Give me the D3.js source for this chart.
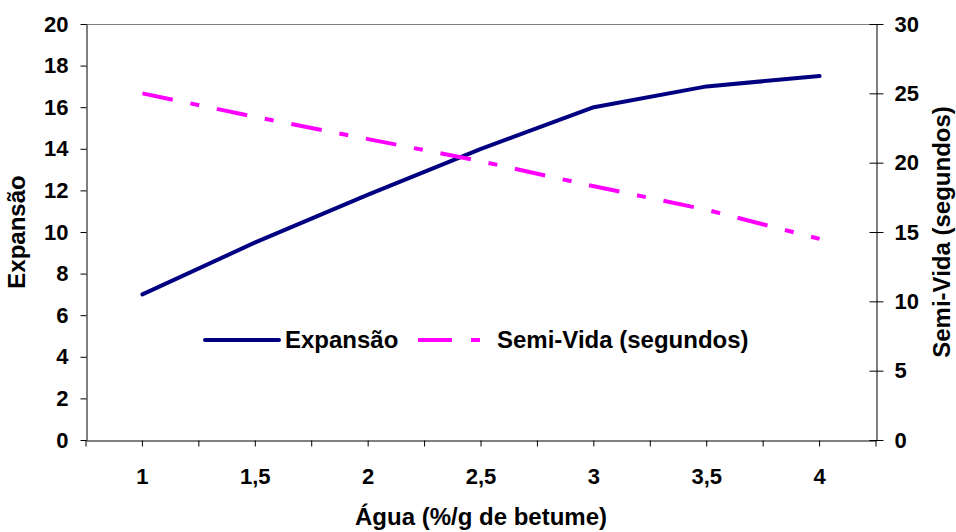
<!DOCTYPE html>
<html>
<head>
<meta charset="utf-8">
<script src="https://cdn.jsdelivr.net/npm/d3@7"></script>
<style>
  body { margin: 0; background: #fff; }
  svg text { font-family: "Liberation Sans", Arial, sans-serif; font-weight: bold; fill: #000; }
</style>
</head>
<body>
<svg id="chart"></svg>
<script>
// Data
const agua = ["1", "1,5", "2", "2,5", "3", "3,5", "4"];
const expansao = [7, 9.5, 11.8, 14, 16, 17, 17.5];
const semiVida = [25, 23.3, 21.7, 20.1, 18.3, 16.6, 14.5];
const leftTicks = [0, 2, 4, 6, 8, 10, 12, 14, 16, 18, 20];
const rightTicks = [0, 5, 10, 15, 20, 25, 30];

const width = 956, height = 532;
const margin = { top: 24, bottom: 92, left: 86, right: 80 };
const tickFont = 22, titleFont = 24;

const svg = d3.select("#chart")
  .attr("width", width)
  .attr("height", height);

// Scales
const x = d3.scaleBand()
  .domain(agua)
  .range([margin.left, width - margin.right])
  .padding(0);

const yLeft = d3.scaleLinear()
  .domain([0, 20])
  .range([height - margin.bottom, margin.top]);

const yRight = d3.scaleLinear()
  .domain([0, 30])
  .range([height - margin.bottom, margin.top]);

// Top border of the plot area
svg.append("line")
  .attr("x1", margin.left)
  .attr("x2", width - margin.right)
  .attr("y1", margin.top + 0.5)
  .attr("y2", margin.top + 0.5)
  .attr("stroke", "#808080");

// Left axis
const gLeft = svg.append("g")
  .attr("transform", `translate(${margin.left + 0.5},0)`)
  .call(d3.axisLeft(yLeft).tickValues(leftTicks).tickSize(6).tickSizeOuter(0).tickPadding(12));

// Right axis, ticks cross the line
const gRight = svg.append("g")
  .attr("transform", `translate(${width - margin.right + 0.5},0)`)
  .call(d3.axisRight(yRight).tickValues(rightTicks).tickSize(7).tickSizeOuter(0).tickPadding(11));
gRight.selectAll(".tick line").attr("x1", -7);

// Bottom axis: labels at category centres, ticks every half category
const gBottom = svg.append("g")
  .attr("transform", `translate(0,${height - margin.bottom + 0.5})`)
  .call(d3.axisBottom(x).tickSize(6).tickSizeOuter(0).tickPadding(22));

const bw = x.bandwidth();
gBottom.selectAll(".edge")
  .data(agua.concat(["end"]))
  .enter()
  .append("line")
  .attr("class", "edge")
  .attr("x1", (d, i) => margin.left + i * bw)
  .attr("x2", (d, i) => margin.left + i * bw)
  .attr("y1", 0)
  .attr("y2", 6)
  .attr("stroke", "#000");

[gLeft, gRight, gBottom].forEach(g => {
  g.selectAll("text").style("font-size", tickFont + "px");
  g.select(".domain").attr("stroke", "#000");
});

// Axis titles
svg.append("text")
  .text("Água (%/g de betume)")
  .attr("x", (margin.left + width - margin.right) / 2)
  .attr("y", height - 7)
  .attr("text-anchor", "middle")
  .style("font-size", titleFont + "px");

svg.append("text")
  .text("Expansão")
  .attr("transform", `translate(25,${(margin.top + height - margin.bottom) / 2}) rotate(-90)`)
  .attr("text-anchor", "middle")
  .style("font-size", titleFont + "px");

svg.append("text")
  .text("Semi-Vida (segundos)")
  .attr("transform", `translate(950,${(margin.top + height - margin.bottom) / 2}) rotate(-90)`)
  .attr("text-anchor", "middle")
  .style("font-size", titleFont + "px");

// Lines
const cx = d => x(d) + bw / 2;

const lineLeft = d3.line()
  .x((d, i) => cx(agua[i]))
  .y(d => yLeft(d));

const lineRight = d3.line()
  .x((d, i) => cx(agua[i]))
  .y(d => yRight(d));

svg.append("path")
  .datum(expansao)
  .attr("d", lineLeft)
  .attr("fill", "none")
  .attr("stroke", "#000080")
  .attr("stroke-width", 4)
  .attr("stroke-linejoin", "round")
  .attr("stroke-linecap", "round");

svg.append("path")
  .datum(semiVida)
  .attr("d", lineRight)
  .attr("fill", "none")
  .attr("stroke", "#FF00FF")
  .attr("stroke-width", 4)
  .attr("stroke-dasharray", "31,18,9,18");

// Legend
const legend = svg.append("g")
  .attr("transform", "translate(205,340)");

legend.append("line")
  .attr("x1", 0).attr("x2", 74)
  .attr("y1", 0).attr("y2", 0)
  .attr("stroke", "#000080")
  .attr("stroke-width", 4)
  .attr("stroke-linecap", "round");

legend.append("text")
  .text("Expansão")
  .attr("x", 80)
  .attr("y", 0)
  .attr("dy", "0.35em")
  .style("font-size", titleFont + "px");

legend.append("line")
  .attr("x1", 213).attr("x2", 287)
  .attr("y1", 0).attr("y2", 0)
  .attr("stroke", "#FF00FF")
  .attr("stroke-width", 4)
  .attr("stroke-dasharray", "34,19,9,30");

legend.append("text")
  .text("Semi-Vida (segundos)")
  .attr("x", 292)
  .attr("y", 0)
  .attr("dy", "0.35em")
  .style("font-size", titleFont + "px");
</script>
</body>
</html>
